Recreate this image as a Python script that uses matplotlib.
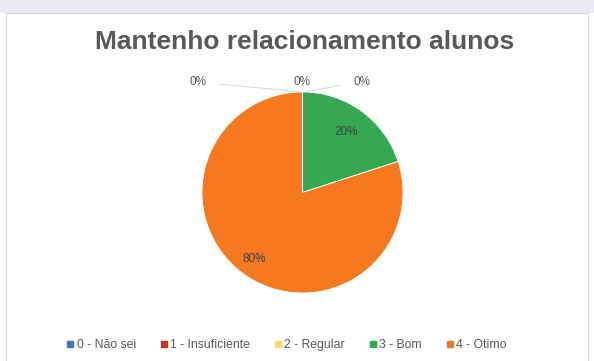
import matplotlib.pyplot as plt
import numpy as np
from matplotlib.lines import Line2D
from matplotlib.patches import Rectangle

# Chart data.
categories = ["0 - Não sei", "1 - Insuficiente", "2 - Regular", "3 - Bom", "4 - Otimo"]
values = [0, 0, 0, 20, 80]
colors = ["#4472C4", "#C0392B", "#FFD966", "#34A853", "#F7791F"]
title = "Mantenho relacionamento alunos"

plt.rcParams["font.family"] = ["Liberation Sans", "DejaVu Sans"]

W, H = 594, 361
fig = plt.figure(figsize=(W / 100, H / 100), dpi=100)
fig.patch.set_facecolor("white")

# Screenshot backdrop: lavender band above the chart frame.
fig.add_artist(Rectangle((0, 1 - 13 / H), 1, 13 / H, transform=fig.transFigure,
                         facecolor="#ECEAF5", edgecolor="none", zorder=-2))
fig.add_artist(Rectangle((6 / W, -0.01), (588 - 6) / W, 1 - 13 / H + 0.01,
                         transform=fig.transFigure, facecolor="white",
                         edgecolor="#D9D9D9", linewidth=0.8, zorder=-1))

fig.text(305 / W, 1 - 42 / H, title, ha="center", va="center",
         fontsize=19, fontweight="bold", color="#595959")

# Pie axes.
cx, cy, r = 302.5, 192.5, 100.5
ax = fig.add_axes([(cx - r) / W, (H - cy - r) / H, 2 * r / W, 2 * r / H])
ax.patch.set_visible(False)
wedges, _ = ax.pie(values, colors=colors, startangle=90, counterclock=False,
                   wedgeprops=dict(edgecolor="white", linewidth=0.6))
ax.set_xlim(-1, 1)
ax.set_ylim(-1, 1)
ax.set_aspect("auto")

total = sum(values)
pct_pos = {3: 0.74, 4: 0.82}
for i, w in enumerate(wedges):
    if values[i] == 0:
        continue
    mid = np.deg2rad((w.theta1 + w.theta2) / 2)
    d = pct_pos[i]
    ax.text(d * np.cos(mid), d * np.sin(mid), f"{values[i] / total:.0%}",
            ha="center", va="center", fontsize=8.5, color="#404040")

# Zero-value labels above the pie with leader lines.
zero_offsets = [(-105, 10), (0, 10), (60, 10)]
zi = 0
for i, v in enumerate(values):
    if v != 0:
        continue
    dx, dy = zero_offsets[zi]
    zi += 1
    ax.annotate(f"{v / total:.0%}", xy=(0, 1), xytext=(dx, dy),
                textcoords="offset pixels", ha="center", va="center",
                fontsize=8.5, color="#595959",
                arrowprops=dict(arrowstyle="-", color="#C9DCDC", lw=0.7,
                                shrinkA=8, shrinkB=3) if dx != 0 else None)

handles = [Line2D([], [], marker="s", linestyle="", markersize=4.5,
                  markerfacecolor=c, markeredgecolor=c) for c in colors]
fig.legend(handles, categories, loc="center", bbox_to_anchor=(286 / W, 1 - 345 / H),
           ncol=5, frameon=False, fontsize=8.8, labelcolor="#595959",
           handletextpad=0.1, columnspacing=1.9, handlelength=0.8)

fig.savefig("out.png", dpi=100)
